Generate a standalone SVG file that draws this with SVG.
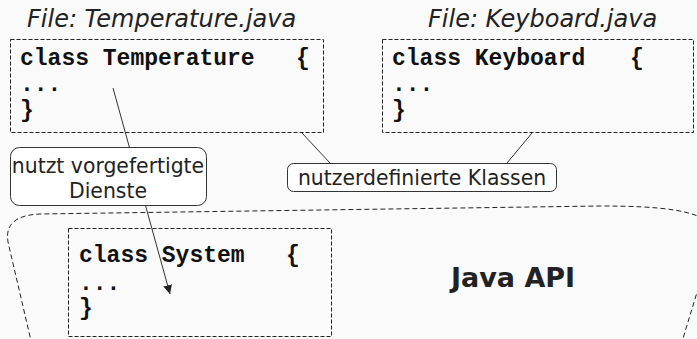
<svg xmlns="http://www.w3.org/2000/svg" width="697" height="339" viewBox="0 0 697 339">
  <defs>
    <style>
      .bg { fill: #fafafa; }
      .codebox { fill: none; stroke: #222; stroke-width: 1; stroke-dasharray: 4 2; }
      .cloud { fill: #fafafa; stroke: #222; stroke-width: 1; stroke-dasharray: 5 3; }
      .label { fill: #fff; stroke: #333; stroke-width: 1; }
      .code { font-family: "Liberation Mono", "Courier New", monospace; font-weight: bold; font-size: 23px; fill: #111; white-space: pre; }
      .file { font-family: "DejaVu Sans", Verdana, sans-serif; font-style: italic; font-size: 24px; fill: #222; }
      .txt { font-family: "DejaVu Sans", Verdana, sans-serif; font-size: 20.4px; fill: #222; }
      .title { font-family: "DejaVu Sans", Verdana, sans-serif; font-weight: bold; font-size: 27px; fill: #222; }
      .conn { stroke: #333; stroke-width: 1; fill: none; }
    </style>
    <marker id="arrow" viewBox="0 0 10 10" refX="10" refY="5" markerWidth="9" markerHeight="9" markerUnits="userSpaceOnUse" orient="auto">
      <path d="M0,0 L10,5 L0,10 z" fill="#222"/>
    </marker>
  </defs>

  <rect class="bg" x="0" y="0" width="697" height="339"/>

  <!-- Java API region -->
  <g id="java-api">
    <path class="cloud" d="M32,345 L8,242 C5,224 16,215 40,214 L600,206 C660,206 700,210 712,226 C718,236 714,246 709,253 L681,345"/>
    <text class="title" x="513" y="287" text-anchor="middle">Java API</text>
  </g>

  <!-- connectors -->
  <g id="connectors">
    <line class="conn" x1="302" y1="133" x2="330" y2="163"/>
    <line class="conn" x1="532" y1="133" x2="507" y2="163"/>
    <line class="conn" x1="113" y1="88" x2="170" y2="294" marker-end="url(#arrow)"/>
  </g>

  <!-- Temperature.java -->
  <g id="temperature">
    <text class="file" x="27" y="27">File: Temperature.java</text>
    <rect class="codebox" x="10.5" y="39.5" width="313" height="93"/>
    <text class="code" x="20" y="65">class Temperature   {</text>
    <text class="code" x="20" y="91">...</text>
    <text class="code" x="20" y="117">}</text>
  </g>

  <!-- Keyboard.java -->
  <g id="keyboard">
    <text class="file" x="428" y="27">File: Keyboard.java</text>
    <rect class="codebox" x="382.5" y="39.5" width="311" height="93"/>
    <text class="code" x="392" y="65">class Keyboard <tspan x="630">{</tspan></text>
    <text class="code" x="392" y="91">...</text>
    <text class="code" x="392" y="117">}</text>
  </g>

  <!-- label: nutzt vorgefertigte Dienste -->
  <g id="label-dienste">
    <rect class="label" x="10.5" y="147.5" width="196" height="58" rx="9"/>
    <text class="txt" x="108" y="173" text-anchor="middle">nutzt vorgefertigte</text>
    <text class="txt" x="108" y="198" text-anchor="middle">Dienste</text>
  </g>

  <!-- label: nutzerdefinierte Klassen -->
  <g id="label-klassen">
    <rect class="label" x="287.5" y="163.5" width="269" height="28" rx="6"/>
    <text class="txt" x="422" y="185" text-anchor="middle">nutzerdefinierte Klassen</text>
  </g>

  <!-- System -->
  <g id="system">
    <rect class="codebox" x="68.5" y="228.5" width="263" height="108"/>
    <text class="code" x="79" y="262">class System   {</text>
    <text class="code" x="79" y="290">...</text>
    <text class="code" x="79" y="315">}</text>
  </g>
</svg>
